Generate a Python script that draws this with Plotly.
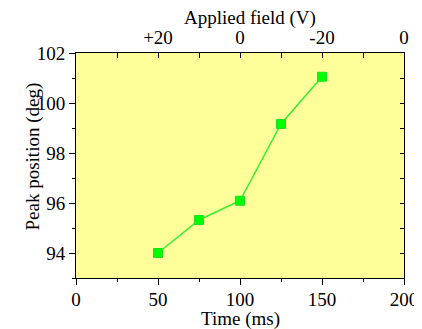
import plotly.graph_objects as go

time_ms = [50, 75, 100, 125, 150]
peak_deg = [94.0, 95.32, 96.09, 99.16, 101.05]
top_tick_vals = [50, 100, 150, 200]
top_tick_text = ["+20", "0", "-20", "0"]

FONT = "Liberation Serif"
fs = 19

fig = go.Figure()
fig.add_trace(go.Scatter(
    x=time_ms, y=peak_deg, mode="lines+markers",
    line=dict(color="#33ee33", width=1.5),
    marker=dict(symbol="square", size=9, color="#00ff00", line=dict(color="#22dd22", width=1)),
    showlegend=False,
))
fig.add_trace(go.Scatter(x=[None], y=[None], xaxis="x2", yaxis="y", showlegend=False))
fig.add_trace(go.Scatter(x=[None], y=[None], xaxis="x", yaxis="y2", showlegend=False))

axis_common = dict(showgrid=False, zeroline=False, linecolor="black", linewidth=1, automargin=False,
                   tickcolor="black", tickfont=dict(family=FONT, size=fs, color="black"))

# page body has an 8px margin, so the figure is sized/offset accordingly
fig.update_layout(
    width=414, height=321,
    margin=dict(l=68, r=18, t=45, b=51),
    paper_bgcolor="white", plot_bgcolor="#ffff99",
    font=dict(family=FONT, size=fs, color="black"),
    xaxis=dict(range=[0, 200], tick0=0, dtick=50, ticks="outside", ticklen=6, showline=True,
               ticklabelstandoff=-2,
               minor=dict(dtick=25, ticks="outside", ticklen=3, tickcolor="black"),
               **axis_common),
    xaxis2=dict(range=[0, 200], overlaying="x", side="top", anchor="y",
                tickmode="array", tickvals=top_tick_vals, ticktext=top_tick_text,
                ticks="inside", ticklen=5, showline=True,
                minor=dict(tickmode="array", tickvals=[25, 75, 125, 175], ticks="inside", ticklen=5, tickcolor="black"),
                **axis_common),
    yaxis=dict(range=[93, 102], tick0=94, dtick=2, ticks="outside", ticklen=6, showline=True,
               minor=dict(dtick=1, tick0=93, ticks="outside", ticklen=3, tickcolor="black"),
               **axis_common),
    yaxis2=dict(range=[93, 102], overlaying="y", side="right", anchor="x",
                tick0=93, dtick=1, ticks="inside", ticklen=4, showline=True,
                showticklabels=False, **axis_common),
    annotations=[
        dict(text="Time (ms)", xref="paper", yref="paper", x=0.502, y=-41/225, xanchor="center", yanchor="middle",
             showarrow=False, font=dict(family=FONT, size=fs)),
        dict(text="Applied field (V)", xref="paper", yref="paper", x=0.53, y=1 + 35/225, xanchor="center", yanchor="middle",
             showarrow=False, font=dict(family=FONT, size=fs)),
        dict(text="Peak position (deg)", xref="paper", yref="paper", x=-44/328, y=0.54, xanchor="center", yanchor="middle",
             textangle=-90, showarrow=False, font=dict(family=FONT, size=fs)),
    ],
)

fig.write_html("out.html")
